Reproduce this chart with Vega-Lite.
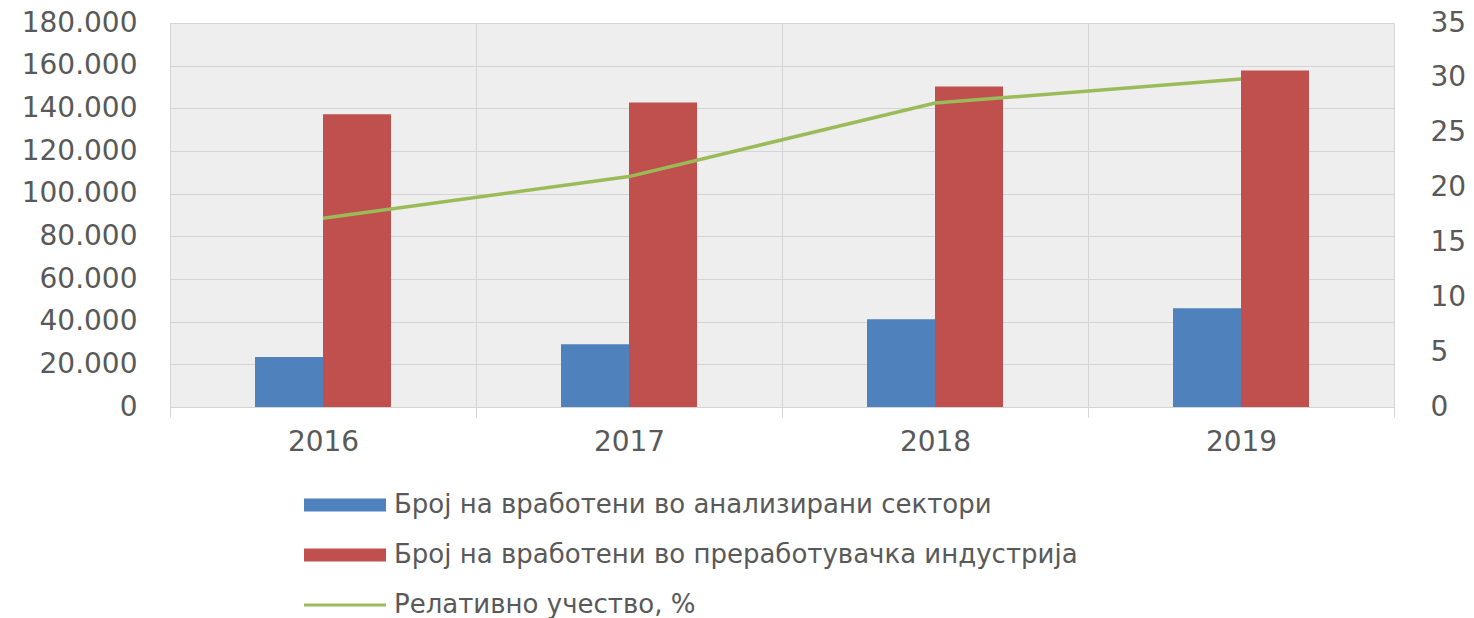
{
  "$schema": "https://vega.github.io/schema/vega-lite/v6.json",
  "width": 1224,
  "height": 384,
  "autosize": {"type": "none"},
  "padding": {"left": 170, "top": 23, "right": 80, "bottom": 211},
  "background": "white",
  "datasets": {
    "bars": [
      {"year": "2016", "series": "Број на вработени во анализирани сектори", "value": 23400},
      {"year": "2016", "series": "Број на вработени во преработувачка индустрија", "value": 137200},
      {"year": "2017", "series": "Број на вработени во анализирани сектори", "value": 29400},
      {"year": "2017", "series": "Број на вработени во преработувачка индустрија", "value": 142700},
      {"year": "2018", "series": "Број на вработени во анализирани сектори", "value": 41100},
      {"year": "2018", "series": "Број на вработени во преработувачка индустрија", "value": 150200},
      {"year": "2019", "series": "Број на вработени во анализирани сектори", "value": 46300},
      {"year": "2019", "series": "Број на вработени во преработувачка индустрија", "value": 157700}
    ],
    "share": [
      {"year": "2016", "series": "Релативно учество, %", "pct": 17.2},
      {"year": "2017", "series": "Релативно учество, %", "pct": 21.0},
      {"year": "2018", "series": "Релативно учество, %", "pct": 27.7},
      {"year": "2019", "series": "Релативно учество, %", "pct": 29.9}
    ]
  },
  "layer": [
    {
      "data": {"name": "bars"},
      "mark": {"type": "bar", "strokeWidth": 0},
      "encoding": {
        "x": {
          "field": "year", "type": "nominal",
          "scale": {"type": "band", "paddingInner": 0, "paddingOuter": 0},
          "axis": {
            "title": null, "labelAngle": 0, "tickBand": "extent", "grid": true,
            "tickSize": 10, "tickColor": "#d4d4d4", "domainColor": "#d4d4d4",
            "labelPadding": 11, "gridColor": "#d4d4d4"
          }
        },
        "xOffset": {
          "field": "series", "type": "nominal",
          "scale": {"domain": ["Број на вработени во анализирани сектори", "Број на вработени во преработувачка индустрија"], "range": [85, 221], "paddingInner": 0, "paddingOuter": 0}
        },
        "y": {
          "field": "value", "type": "quantitative",
          "scale": {"domain": [0, 180000], "nice": false},
          "axis": {
            "title": null, "values": [0, 20000, 40000, 60000, 80000, 100000, 120000, 140000, 160000, 180000],
            "format": ",.0f", "grid": true, "gridColor": "#d4d4d4", "domain": false, "ticks": false,
            "labelPadding": 33
          }
        },
        "color": {
          "field": "series", "type": "nominal",
          "scale": {
            "domain": ["Број на вработени во анализирани сектори", "Број на вработени во преработувачка индустрија", "Релативно учество, %"],
            "range": ["#4F81BD", "#C0504D", "#9BBB59"]
          },
          "legend": {
            "orient": "none", "legendX": 162, "legendY": 469, "direction": "vertical", "title": null,
            "symbolSize": 6724, "labelFontSize": 26, "labelColor": "#595959", "labelFont": "DejaVu Sans",
            "labelOffset": 36, "rowPadding": 24, "labelLimit": 1000, "padding": 0,
            "encode": {
              "symbols": {
                "update": {
                  "shape": {"signal": "datum.value === 'Релативно учество, %' ? 'M-1,0L1,0' : 'M-1,-0.16L1,-0.16L1,0.16L-1,0.16Z'"},
                  "fill": {"signal": "datum.value === 'Релативно учество, %' ? 'transparent' : scale('color', datum.value)"},
                  "stroke": {"signal": "scale('color', datum.value)"},
                  "strokeWidth": {"signal": "datum.value === 'Релативно учество, %' ? 3 : 0"},
                  "opacity": {"value": 1}
                }
              }
            }
          }
        }
      }
    },
    {
      "data": {"name": "share"},
      "mark": {"type": "line", "strokeWidth": 3.5},
      "encoding": {
        "x": {"field": "year", "type": "nominal"},
        "y": {
          "field": "pct", "type": "quantitative",
          "scale": {"domain": [0, 35], "nice": false},
          "axis": {
            "title": null, "orient": "right", "values": [0, 5, 10, 15, 20, 25, 30, 35],
            "grid": false, "domain": false, "ticks": false, "labelPadding": 36
          }
        },
        "color": {"field": "series", "type": "nominal"}
      }
    }
  ],
  "resolve": {"scale": {"y": "independent"}, "axis": {"y": "independent"}},
  "config": {
    "locale": {"number": {"decimal": ",", "thousands": ".", "grouping": [3], "currency": ["", ""]}},
    "view": {"fill": "#eeeeee", "stroke": "#d4d4d4"},
    "axis": {"labelFont": "DejaVu Sans", "labelFontSize": 28, "labelColor": "#595959"}
  }
}
